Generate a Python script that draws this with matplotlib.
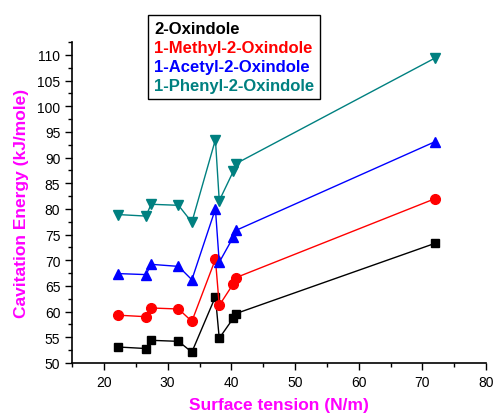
import numpy as np
import matplotlib.pyplot as plt
from matplotlib.ticker import MultipleLocator

## Donnees
tension = [22.2, 26.6, 27.4, 31.7, 33.8, 37.5, 38.1, 40.3, 40.7, 72.0]
oxindole = [53.1, 52.8, 54.4, 54.2, 52.1, 62.9, 54.8, 58.7, 59.6, 73.3]
methyl = [59.3, 59.0, 60.7, 60.5, 58.1, 70.2, 61.2, 65.4, 66.6, 82.0]
acetyl = [67.4, 67.2, 69.2, 68.8, 66.2, 80.0, 69.6, 74.5, 75.8, 93.1]
phenyl = [78.9, 78.6, 80.9, 80.7, 77.4, 93.5, 81.6, 87.3, 88.8, 109.4]
noms = ["2-Oxindole", "1-Methyl-2-Oxindole", "1-Acetyl-2-Oxindole", "1-Phenyl-2-Oxindole"]

plt.rcParams['font.family'] = ['Liberation Sans', 'DejaVu Sans']

fig = plt.figure(figsize=(4.94, 4.14), dpi=100)
ax = fig.add_axes([0.146, 0.121, 0.838, 0.775])

styles = [("black", "s", 5.2), ("red", "o", 7), ("blue", "^", 7.5), ("#008080", "v", 7.5)]
series = [oxindole, methyl, acetyl, phenyl]
for (c, m, ms), y, n in zip(styles, series, noms):
    ax.plot(tension, y, color=c, marker=m, markersize=ms, linewidth=1, label=n)

ax.set_xlim(15, 80)
ax.set_ylim(50, 112.5)
ax.xaxis.set_major_locator(MultipleLocator(10))
ax.xaxis.set_minor_locator(MultipleLocator(5))
ax.yaxis.set_major_locator(MultipleLocator(5))
ax.yaxis.set_minor_locator(MultipleLocator(2.5))
ax.set_xticks(np.arange(20, 81, 10))
ax.tick_params(which='major', direction='out', length=5, width=1, labelsize=10, colors='black')
ax.tick_params(which='minor', direction='out', length=3, width=1)
ax.spines['top'].set_visible(False)
ax.spines['right'].set_visible(False)
for s in ['left', 'bottom']:
    ax.spines[s].set_linewidth(1.2)

ax.set_xlabel("Surface tension (N/m)", color='#FF00FF', fontweight='bold', fontsize=12.5, labelpad=6)
ax.set_ylabel("Cavitation Energy (kJ/mole)", color='#FF00FF', fontweight='bold', fontsize=12.5, labelpad=6)

leg = ax.legend(loc='upper left', bbox_to_anchor=(0.184, 1.084), borderaxespad=0,
                handlelength=0, handletextpad=0,
                markerscale=0, fancybox=False, edgecolor='black', framealpha=1,
                prop={'weight': 'bold', 'size': 12}, labelspacing=0.25, borderpad=0.35)
leg.get_frame().set_linewidth(1)
for h in leg.legend_handles:
    h.set_visible(False)
for t, (c, m, ms) in zip(leg.get_texts(), styles):
    t.set_color(c)

fig.savefig("out.png", dpi=100)
